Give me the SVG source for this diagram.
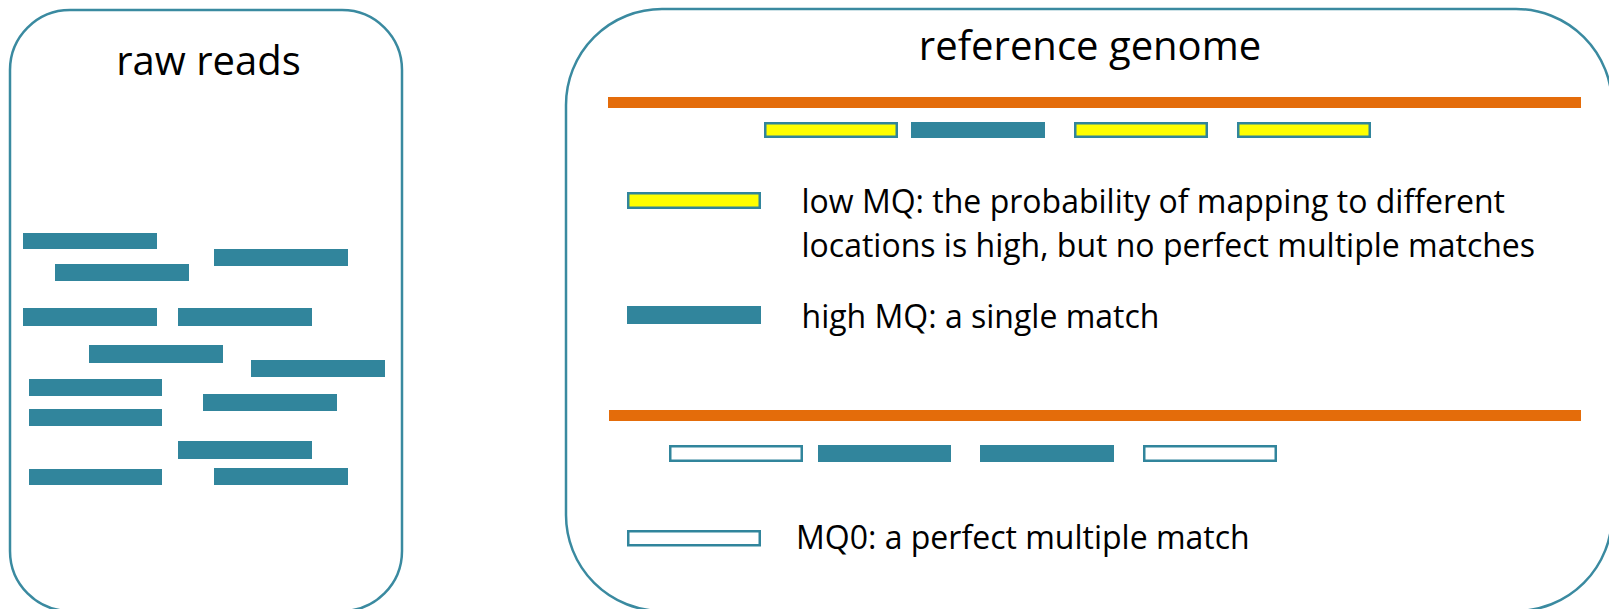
<svg xmlns="http://www.w3.org/2000/svg" width="1609" height="609" viewBox="0 0 1609 609">
  <style>
    .panel { fill: #ffffff; stroke: #3a8aa0; stroke-width: 2.5; }
    .title { font-family: "Open Sans", "Liberation Sans", sans-serif; font-size: 40px; fill: #000000; text-anchor: middle; }
    .label { font-family: "Open Sans", "Liberation Sans", sans-serif; font-size: 32px; fill: #000000; }
    .read { fill: #31859c; }
    .low { fill: #ffff00; stroke: #31859c; stroke-width: 2.5; }
    .zero { fill: #ffffff; stroke: #31859c; stroke-width: 2.5; }
    .genome { fill: #e46c0a; }
  </style>

  <!-- left panel: unmapped reads -->
  <g id="raw-reads">
    <rect class="panel" x="10" y="10" width="392" height="601" rx="60" ry="60"/>
    <text class="title" x="208.5" y="75">raw reads</text>
    <rect class="read" x="23" y="233" width="134" height="16"/>
    <rect class="read" x="55" y="264" width="134" height="17"/>
    <rect class="read" x="214" y="249" width="134" height="17"/>
    <rect class="read" x="23" y="308" width="134" height="18"/>
    <rect class="read" x="178" y="308" width="134" height="18"/>
    <rect class="read" x="89" y="345" width="134" height="18"/>
    <rect class="read" x="251" y="360" width="134" height="17"/>
    <rect class="read" x="29" y="379" width="133" height="17"/>
    <rect class="read" x="203" y="394" width="134" height="17"/>
    <rect class="read" x="29" y="409" width="133" height="17"/>
    <rect class="read" x="178" y="441" width="134" height="18"/>
    <rect class="read" x="29" y="469" width="133" height="16"/>
    <rect class="read" x="214" y="468" width="134" height="17"/>
  </g>

  <!-- right panel: reads aligned to the reference -->
  <g id="reference-genome">
    <rect class="panel" x="566" y="9" width="1046" height="602" rx="96" ry="96"/>
    <text class="title" x="1090" y="60">reference genome</text>
  </g>

  <g id="genome-1">
    <rect class="genome" x="608" y="97" width="973" height="11"/>
    <rect class="low" x="765.25" y="123.25" width="131.5" height="13.5"/>
    <rect class="read" x="911" y="122" width="134" height="16"/>
    <rect class="low" x="1075.25" y="123.25" width="131.5" height="13.5"/>
    <rect class="low" x="1238.25" y="123.25" width="131.5" height="13.5"/>
  </g>

  <g id="legend-low-mq">
    <rect class="low" x="628.25" y="193.25" width="131.5" height="14.5"/>
    <text class="label" x="801.5" y="213">low MQ: the probability of mapping to different</text>
    <text class="label" x="801.5" y="257">locations is high, but no perfect multiple matches</text>
  </g>

  <g id="legend-high-mq">
    <rect class="read" x="627" y="306" width="134" height="18"/>
    <text class="label" x="801.5" y="328">high MQ: a single match</text>
  </g>

  <g id="genome-2">
    <rect class="genome" x="609" y="410" width="972" height="11"/>
    <rect class="zero" x="670.25" y="446.25" width="131.5" height="14.5"/>
    <rect class="read" x="818" y="445" width="133" height="17"/>
    <rect class="read" x="980" y="445" width="134" height="17"/>
    <rect class="zero" x="1144.25" y="446.25" width="131.5" height="14.5"/>
  </g>

  <g id="legend-mq0">
    <rect class="zero" x="628.25" y="531.25" width="131.5" height="14"/>
    <text class="label" x="796" y="549">MQ0: a perfect multiple match</text>
  </g>

  <!-- no connectors in this figure -->
  <g id="connectors"/>
</svg>
